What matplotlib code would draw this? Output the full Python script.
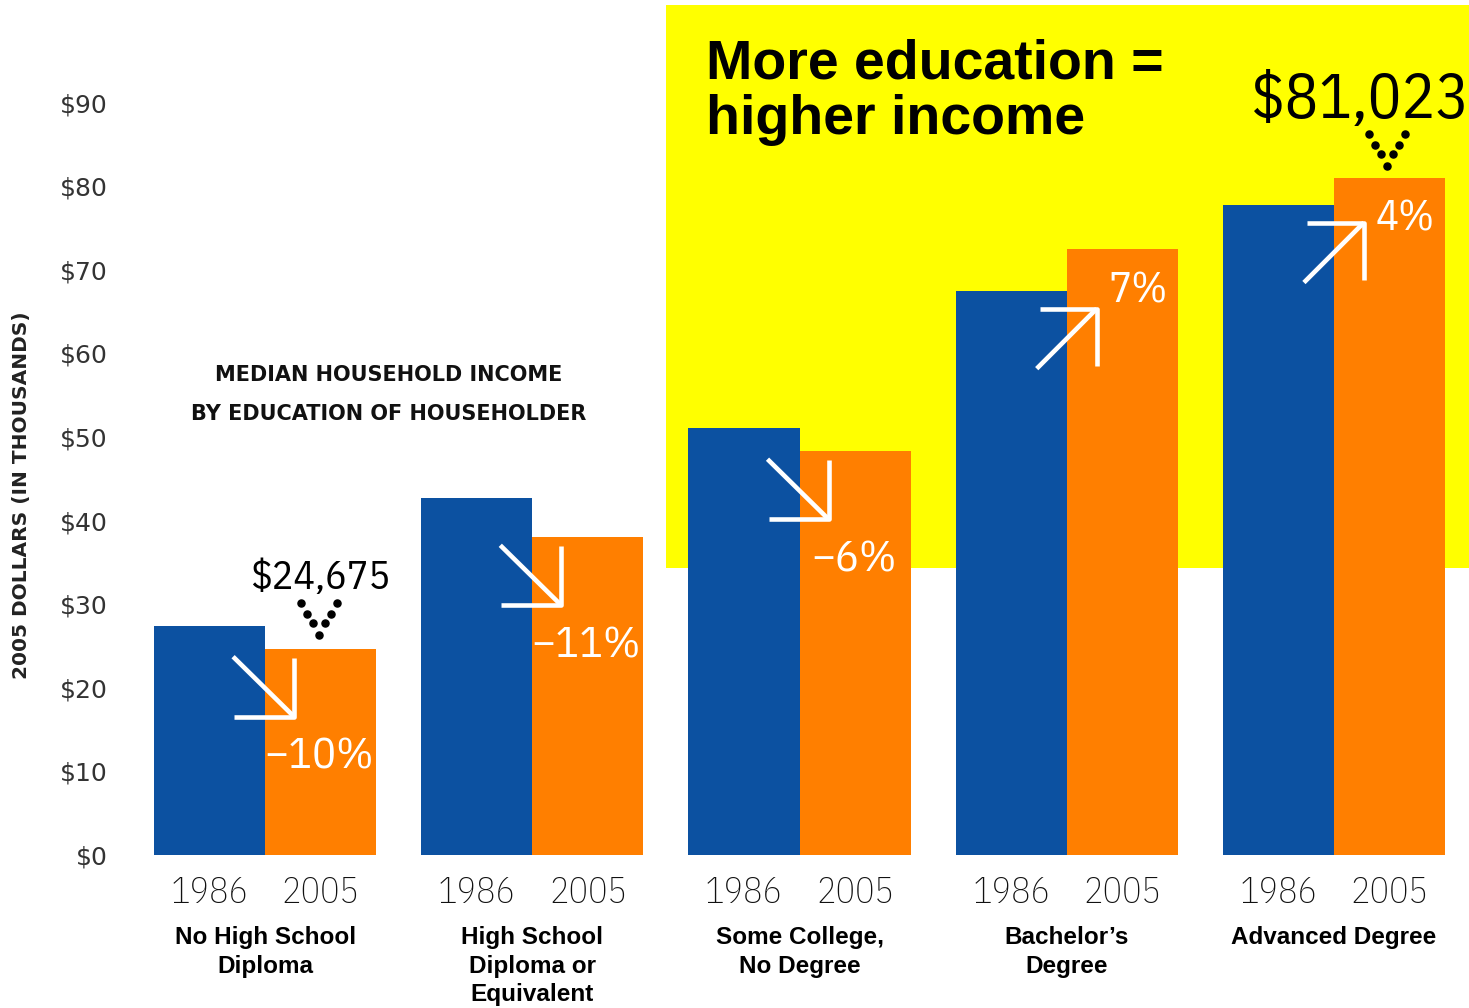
import matplotlib
matplotlib.use("Agg")
import matplotlib.pyplot as plt
from matplotlib.patches import Rectangle
from matplotlib.lines import Line2D
from matplotlib.transforms import Affine2D
import numpy as np

# Median household income, thousands of 2005 dollars
categories = ["No High School\nDiploma", "High School\nDiploma or\nEquivalent",
              "Some College,\nNo Degree", "Bachelor\u2019s\nDegree", "Advanced Degree"]
years = ["1986", "2005"]
income_1986 = [27.4, 42.7, 51.1, 67.5, 77.8]
income_2005 = [24.675, 38.0, 48.3, 72.5, 81.023]
pct_change = ["\u221210%", "\u221211%", "\u22126%", "7%", "4%"]
callouts = {0: "$24,675", 4: "$81,023"}
yticks = list(range(0, 100, 10))

BLUE = "#0C51A1"
ORANGE = "#FF7F00"
YELLOW = "#FFFF00"

NARROW = ["IBM Plex Sans Condensed", "Roboto Condensed", "DejaVu Sans"]
SANS = ["Liberation Sans", "DejaVu Sans"]
WIDE = ["DejaVu Sans"]

fig = plt.figure(figsize=(14.69, 10.08), dpi=100)
ax = fig.add_axes([0.0895, 0.1518, 0.9095, 0.8294])
ax.set_xlim(-0.5, 4.5)
ax.set_ylim(0, 100)

w = 0.416
x = np.arange(len(categories))

# yellow highlight panel behind the upper groups
ax.add_patch(Rectangle((1.5, 34.3), 3.1, 67.4, facecolor=YELLOW, edgecolor="none",
                       zorder=0, clip_on=False))

ax.bar(x - w / 2, income_1986, w, color=BLUE, zorder=2)
ax.bar(x + w / 2, income_2005, w, color=ORANGE, zorder=2)

for s in ax.spines.values():
    s.set_visible(False)
ax.set_yticks(yticks)
ax.set_yticklabels([f"${t}" for t in yticks], fontsize=18, color="#333333", family=WIDE)
ax.tick_params(axis="y", length=0, pad=17)
ax.set_xticks(np.concatenate([x - w / 2, x + w / 2]))
ax.set_xticklabels([years[0]] * len(x) + [years[1]] * len(x), fontsize=26,
                   family=NARROW, fontweight="light", color="#111111")
ax.tick_params(axis="x", length=0, pad=15)

for i, cat in enumerate(categories):
    ax.annotate(cat, (x[i], 0), xycoords=("data", "axes fraction"),
                xytext=(0, -51), textcoords="offset points", ha="center", va="top",
                fontsize=17.5, fontweight="bold", family=SANS, linespacing=1.32)

ax.text(-0.082, 0.4306, "2005 DOLLARS (IN THOUSANDS)", transform=ax.transAxes,
        rotation=90, ha="center", va="center", fontsize=14.5, fontweight="bold",
        family=WIDE, color="#222222")

ax.text(0.464, 57.4, "MEDIAN HOUSEHOLD INCOME", ha="center", va="center",
        fontsize=15, fontweight="bold", family=WIDE, color="#111111")
ax.text(0.464, 52.7, "BY EDUCATION OF HOUSEHOLDER", ha="center", va="center",
        fontsize=15, fontweight="bold", family=WIDE, color="#111111")

fig.text(0.4806, 0.962, "More education =\nhigher income", ha="left", va="top",
         fontsize=40, fontweight="bold", family=SANS, linespacing=1.1)


def pix(xd, yd):
    return Affine2D().translate(*ax.transData.transform((xd, yd)))


# change arrows straddling each pair of bars
for i in range(len(x)):
    up = income_2005[i] > income_1986[i]
    if up:
        base = pix(x[i], income_1986[i])
        tip = (30, -18)
        tail = (tip[0] - 60, tip[1] - 60)
        head = [[(tip[0] - 57, tip[1]), tip, (tip[0], tip[1] - 57)]]
    else:
        base = pix(x[i], income_2005[i])
        tip = (29, -68)
        tail = (tip[0] - 61, tip[1] + 60)
        head = [[(tip[0] - 60, tip[1]), tip, (tip[0], tip[1] + 59)]]
    for seg in [[tail, tip]] + head:
        xs, ys = zip(*seg)
        ax.add_line(Line2D(xs, ys, color="white", lw=3.3, transform=base,
                           solid_capstyle="butt", zorder=4))
    if up:
        ax.annotate(pct_change[i], (x[i] + w / 2, income_2005[i]),
                    xytext=(11, -30), textcoords="offset points", ha="center",
                    va="center", fontsize=31, color="white", family=NARROW, zorder=5)
    else:
        ax.annotate(pct_change[i], (x[i] + w / 2, income_2005[i]),
                    xytext=(-1, -78), textcoords="offset points", ha="center",
                    va="center", fontsize=32, color="white", family=NARROW, zorder=5)

# dotted chevrons pointing at the highlighted values
dots = [(-18, 32), (18, 32), (-12, 21), (12, 21), (-6, 12), (6, 12), (0, 0)]
for i, txt in callouts.items():
    base = pix(x[i] + w / 2, income_2005[i])
    dx = -3 if i == 4 else -2
    dy = 12 if i == 4 else 14
    ax.scatter([d[0] + dx for d in dots], [d[1] + dy for d in dots], s=26, color="black",
               transform=base, zorder=5, clip_on=False)
    if i == 4:
        ax.annotate(txt, (x[i] + w / 2, income_2005[i]), xytext=(-21, 43),
                    textcoords="offset points", ha="center", va="baseline",
                    fontsize=45, family=NARROW, color="black")
    else:
        ax.annotate(txt, (x[i] + w / 2, income_2005[i]), xytext=(0, 43),
                    textcoords="offset points", ha="center", va="baseline",
                    fontsize=29, family=NARROW, color="black")

fig.savefig("out.png", dpi=100)
